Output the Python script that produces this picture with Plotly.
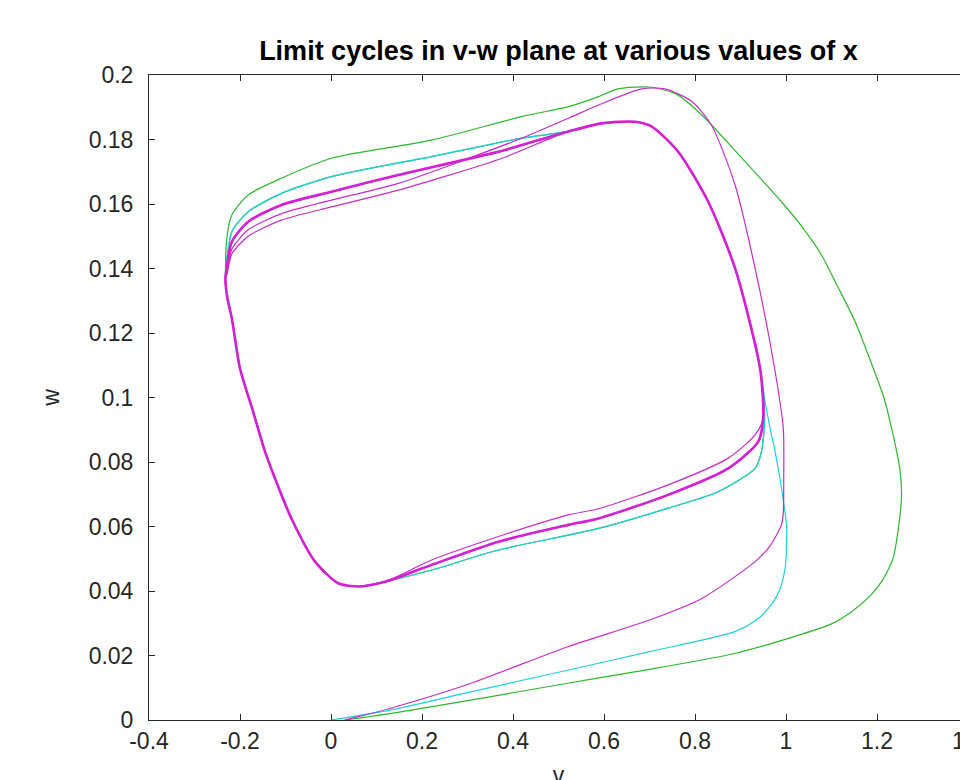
import plotly.graph_objects as go

# ---- axis ticks ----
x_tick_vals = [-0.4, -0.2, 0.0, 0.2, 0.4, 0.6, 0.8, 1.0, 1.2, 1.4]
x_tick_text = ["-0.4", "-0.2", "0", "0.2", "0.4", "0.6", "0.8", "1", "1.2", "1.4"]
y_tick_vals = [0.0, 0.02, 0.04, 0.06, 0.08, 0.1, 0.12, 0.14, 0.16, 0.18, 0.2]
y_tick_text = ["0", "0.02", "0.04", "0.06", "0.08", "0.1", "0.12", "0.14", "0.16", "0.18", "0.2"]

# ---- read-off segments of the trajectories (v, w) ----
# green transient: start -> wide outer loop -> outer top branch
green_start_v = [0.03, 0.13, 0.30, 0.52, 0.67, 0.89, 1.03, 1.10, 1.144, 1.185, 1.21, 1.235, 1.247,
                 1.254, 1.25, 1.232, 1.215, 1.192, 1.152, 1.115, 1.078, 1.035, 0.99, 0.90, 0.815,
                 0.76, 0.705, 0.631, 0.588, 0.522, 0.419, 0.221, 0.001, -0.109, -0.182, -0.218, -0.229]
green_start_w = [0.0, 0.002, 0.006, 0.0114, 0.015, 0.0207, 0.0264, 0.0298, 0.0336, 0.0385, 0.0429, 0.050, 0.0594,
                 0.0698, 0.078, 0.0905, 0.100, 0.109, 0.1235, 0.134, 0.1442, 0.153, 0.1607, 0.1747, 0.1876,
                 0.194, 0.1962, 0.1957, 0.1933, 0.1902, 0.1871, 0.1798, 0.1742, 0.168, 0.1628, 0.1566, 0.1494]

# cyan transient: start -> bottom -> right side
cyan_start_v = [0.0, 0.127, 0.30, 0.522, 0.70, 0.888, 0.935, 0.961, 0.985, 0.998, 1.001, 1.001,
                0.99, 0.976, 0.965, 0.954]
cyan_start_w = [0.0, 0.003, 0.0085, 0.0155, 0.0212, 0.0274, 0.031, 0.0346, 0.040, 0.047, 0.0532, 0.0605,
                0.072, 0.0832, 0.0905, 0.0987]

# magenta transient: start -> bottom -> right side -> high peak -> joins the top branch
mag_start_v = [0.03, 0.127, 0.30, 0.522, 0.70, 0.815, 0.932, 0.965, 0.99, 0.994, 0.995, 0.994,
               0.975, 0.932, 0.888, 0.836, 0.793, 0.734, 0.683, 0.588, 0.522, 0.419]
mag_start_w = [0.0, 0.0035, 0.011, 0.0228, 0.031, 0.0377, 0.0491, 0.054, 0.0605, 0.064, 0.075, 0.0905,
               0.109, 0.1401, 0.1659, 0.1845, 0.1918, 0.1957, 0.1957, 0.1907, 0.1866, 0.1804]

# limit-cycle branches
left_v = [-0.232, -0.228, -0.218, -0.200, -0.172, -0.145, -0.115, -0.087, -0.035, 0.016, 0.060, 0.119]
left_w = [0.137, 0.131, 0.1246, 0.109, 0.096, 0.0832, 0.072, 0.0625, 0.0491, 0.0424, 0.0414, 0.0429]

bottom_gc_v = [0.221, 0.368, 0.588, 0.741, 0.851, 0.932, 0.946, 0.953]
bottom_gc_w = [0.0465, 0.0527, 0.0594, 0.0657, 0.0708, 0.078, 0.0832, 0.0936]

bottom_band_v = [0.221, 0.368, 0.522, 0.588, 0.741, 0.873, 0.939, 0.950]
bottom_band_w = [0.0481, 0.0553, 0.0605, 0.0625, 0.0698, 0.078, 0.0863, 0.094]

bottom_thin_v = [0.221, 0.368, 0.522, 0.588, 0.741, 0.873, 0.932, 0.950]
bottom_thin_w = [0.0496, 0.0569, 0.0636, 0.0655, 0.0729, 0.0812, 0.0884, 0.0936]

right_v = [0.943, 0.888, 0.829, 0.763, 0.705, 0.668, 0.595, 0.522]
right_w = [0.109, 0.1401, 0.1607, 0.1762, 0.184, 0.1855, 0.185, 0.1825]

top_cyan_v = [0.419, 0.221, 0.001, -0.109, -0.182, -0.218, -0.229]
top_cyan_w = [0.1804, 0.1747, 0.1685, 0.1633, 0.1576, 0.1514, 0.1421]

top_v = [0.368, 0.148, 0.001, -0.109, -0.182, -0.218, -0.229]
top_band_w = [0.1762, 0.169, 0.1638, 0.1597, 0.1545, 0.1483, 0.140]
top_a_w = [0.1752, 0.1664, 0.1612, 0.157, 0.152, 0.146, 0.139]
top_b_w = [0.1738, 0.1643, 0.1591, 0.155, 0.150, 0.1445, 0.138]

GREEN = "#2cb82c"
CYAN = "#1fd0dc"
MAGENTA = "#c82cc8"
MAGENTA_BAND = "#e010e0"


def path(*segs):
    vs, ws = [], []
    for sv, sw in segs:
        vs += list(sv)
        ws += list(sw)
    return vs, ws


L = (left_v, left_w)
BGC = (bottom_gc_v, bottom_gc_w)
BB = (bottom_band_v, bottom_band_w)
BT = (bottom_thin_v, bottom_thin_w)
R = (right_v, right_w)
TC = (top_cyan_v, top_cyan_w)
TB = (top_v, top_band_w)
TA_tail = (top_v[1:], top_a_w[1:])
TBB = (top_v, top_b_w)

green_path = path((green_start_v, green_start_w), L, BGC, R, TC)
cyan_path = path((cyan_start_v, cyan_start_w), R, TC, L, BGC, R, TC, L, BGC, R, TC)
mag_path = path((mag_start_v, mag_start_w), TA_tail, L, BT, R, TBB, L, BB, R, TB, L, BB, R)
band_path = path(TB, L, BB, R, TB)

fig = go.Figure()
line_kw = dict(shape="spline", smoothing=0.7)
fig.add_trace(go.Scatter(x=green_path[0], y=green_path[1], mode="lines",
                         line=dict(color=GREEN, width=1.2, **line_kw)))
fig.add_trace(go.Scatter(x=cyan_path[0], y=cyan_path[1], mode="lines",
                         line=dict(color=CYAN, width=1.2, **line_kw)))
fig.add_trace(go.Scatter(x=band_path[0], y=band_path[1], mode="lines",
                         line=dict(color=MAGENTA_BAND, width=2.6, **line_kw)))
fig.add_trace(go.Scatter(x=mag_path[0], y=mag_path[1], mode="lines",
                         line=dict(color=MAGENTA, width=1.2, **line_kw)))

axis_common = dict(
    ticks="inside", ticklen=6, tickwidth=1, tickcolor="#262626",
    showline=True, linecolor="#262626", linewidth=1, mirror="ticks",
    showgrid=False, zeroline=False, automargin=False,
    ticklabeloverflow="allow",
    tickfont=dict(size=23, color="#262626"),
)

fig.update_layout(
    width=968, height=780,
    margin=dict(l=141, r=8, t=67, b=68, autoexpand=False),
    plot_bgcolor="white", paper_bgcolor="white",
    font=dict(family="Liberation Sans, Arial, sans-serif", color="#262626", size=23),
    showlegend=False,
    title=dict(text="<b>Limit cycles in v-w plane at various values of x</b>",
               x=0.5, xref="paper", xanchor="center",
               y=1 - 43 / 780, yref="container", yanchor="middle",
               font=dict(size=27, color="#000000")),
    xaxis=dict(range=[-0.4, 1.4], tickvals=x_tick_vals, ticktext=x_tick_text,
               title=dict(text="v", font=dict(size=23, color="#262626")), **axis_common),
    yaxis=dict(range=[0, 0.2], tickvals=y_tick_vals, ticktext=y_tick_text,
               ticklabelstandoff=10,
               title=dict(text="w", standoff=22, font=dict(size=23, color="#262626")), **axis_common),
)

fig.write_html("out.html")
